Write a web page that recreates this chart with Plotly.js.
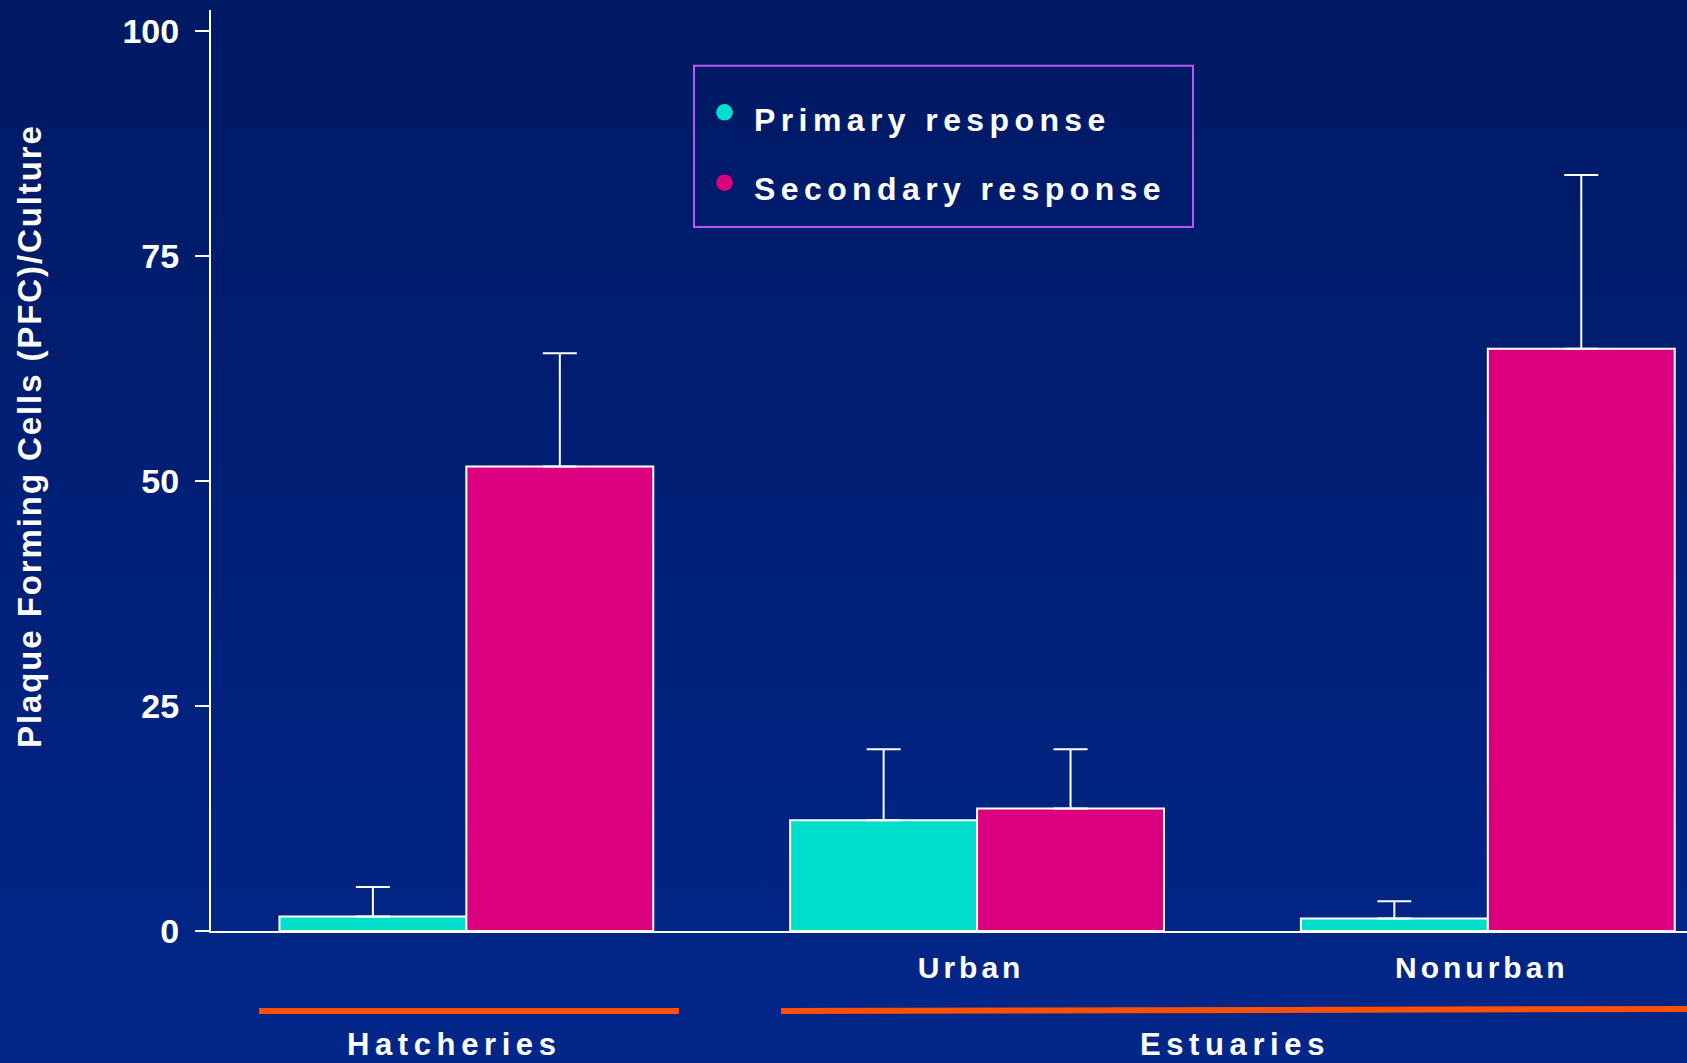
<!DOCTYPE html>
<html>
<head>
<meta charset="utf-8">
<script src="https://cdn.plot.ly/plotly-3.0.1.min.js"></script>
<style>
  html, body { margin: 0; padding: 0; }
  body { width: 1687px; height: 1063px; overflow: hidden;
         background: linear-gradient(to bottom, #001964 0%, #001e73 40%, #02278a 100%); }
  #chart { width: 1687px; height: 1063px; }
</style>
</head>
<body>
<div id="chart"></div>
<script>
// ---- data ----
const categories = ['Hatcheries', 'Urban', 'Nonurban'];
const tickLabels = ['', 'Urban', 'Nonurban'];
const seriesNames = ['Primary response', 'Secondary response'];
const primary = [1.6, 12.3, 1.4];
const primaryErr = [3.3, 7.9, 1.9];
const secondary = [51.6, 13.6, 64.7];
const secondaryErr = [12.6, 6.6, 19.3];
const yTicks = [0, 25, 50, 75, 100];
const groupLabels = ['Hatcheries', 'Estuaries'];
const yTitle = 'Plaque Forming Cells (PFC)/Culture';

// ---- styling ----
const W = 1687, H = 1063;
const L = 211, R = 1687, T = 10, B = 931;
const px = x => (x - L) / (R - L);
const py = y => (B - y) / (B - T);
const FONT = 'Liberation Sans, Arial, Helvetica, sans-serif';
const WHITE = '#ffffff';
const TEAL = '#00DFCB';
const MAGENTA = '#DB0080';
const ORANGE = '#FF5005';
const PURPLE = '#B35CF0';
const sp = (t, s) => '<span style="letter-spacing:' + s + 'px">' + t + '</span>';

const traces = [
  {
    type: 'bar', name: seriesNames[0], x: categories, y: primary,
    marker: { color: TEAL, line: { color: WHITE, width: 2 } },
    error_y: { type: 'data', array: primaryErr, symmetric: false, arrayminus: primary.map(() => 0),
               color: WHITE, thickness: 2, width: 17 },
    showlegend: false, hoverinfo: 'y'
  },
  {
    type: 'bar', name: seriesNames[1], x: categories, y: secondary,
    marker: { color: MAGENTA, line: { color: WHITE, width: 2 } },
    error_y: { type: 'data', array: secondaryErr, symmetric: false, arrayminus: secondary.map(() => 0),
               color: WHITE, thickness: 2, width: 17 },
    showlegend: false, hoverinfo: 'y'
  }
];

const legendColors = [TEAL, MAGENTA];
const legendRowY = [119.5, 189.5];
const bulletY = [112.3, 182.7];

const shapes = [
  { type: 'rect', xref: 'paper', yref: 'paper', x0: px(694), x1: px(1193), y0: py(227), y1: py(65.7),
    line: { color: PURPLE, width: 2 }, fillcolor: 'rgba(0,0,0,0)' },
  { type: 'line', xref: 'paper', yref: 'paper', x0: px(259), x1: px(679), y0: py(1011), y1: py(1011),
    line: { color: ORANGE, width: 6 } },
  { type: 'line', xref: 'paper', yref: 'paper', x0: px(781), x1: px(1687), y0: py(1011), y1: py(1009),
    line: { color: ORANGE, width: 6 } }
];
legendColors.forEach((c, i) => {
  shapes.push({ type: 'circle', xref: 'paper', yref: 'paper',
    x0: px(724.5 - 8.3), x1: px(724.5 + 8.3), y0: py(bulletY[i] + 8.3), y1: py(bulletY[i] - 8.3),
    fillcolor: c, line: { width: 0 } });
});

const annotations = [];
seriesNames.forEach((n, i) => {
  annotations.push({ xref: 'paper', yref: 'paper', x: px(752), y: py(legendRowY[i]),
    xanchor: 'left', yanchor: 'middle', showarrow: false, text: sp(n, 5.4),
    font: { family: FONT, size: 32, color: WHITE, weight: 'bold' } });
});
const groupCenters = [452, 1232];
groupLabels.forEach((g, i) => {
  annotations.push({ xref: 'paper', yref: 'paper', x: px(groupCenters[i] + 2.7), y: py(1044),
    xanchor: 'center', yanchor: 'middle', showarrow: false, text: sp(g, 5.6),
    font: { family: FONT, size: 31, color: WHITE, weight: 'bold' } });
});
annotations.push({ xref: 'paper', yref: 'paper', x: px(29), y: py(436), textangle: -90,
  xanchor: 'center', yanchor: 'middle', showarrow: false, text: sp(yTitle, 1.9),
  font: { family: FONT, size: 33, color: WHITE, weight: 'bold' } });

const layout = {
  width: W, height: H,
  margin: { l: L, r: W - R, t: T, b: H - B, pad: 0 },
  paper_bgcolor: 'rgba(0,0,0,0)', plot_bgcolor: 'rgba(0,0,0,0)',
  barmode: 'group', bargap: 0.268, bargroupgap: 0,
  showlegend: false,
  font: { family: FONT, color: WHITE },
  xaxis: {
    type: 'category', range: [-0.5, 2.39], fixedrange: true,
    tickvals: categories, ticktext: tickLabels.map(t => sp(t, 4)),
    ticks: '', showgrid: false, zeroline: false,
    showline: true, linecolor: WHITE, linewidth: 2,
    tickfont: { family: FONT, size: 30, color: WHITE, weight: 'bold' },
    ticklabelstandoff: 9, ticklabelshift: -6
  },
  yaxis: {
    range: [0, 102.33], fixedrange: true,
    tickvals: yTicks, ticktext: yTicks.map(String),
    ticks: 'outside', ticklen: 14, tickwidth: 2, tickcolor: WHITE,
    showgrid: false, zeroline: false,
    showline: true, linecolor: WHITE, linewidth: 2,
    tickfont: { family: FONT, size: 34, color: WHITE, weight: 'bold' },
    ticklabelstandoff: 9
  },
  shapes: shapes,
  annotations: annotations
};

Plotly.newPlot('chart', traces, layout, { displayModeBar: false, staticPlot: true });
</script>
</body>
</html>
